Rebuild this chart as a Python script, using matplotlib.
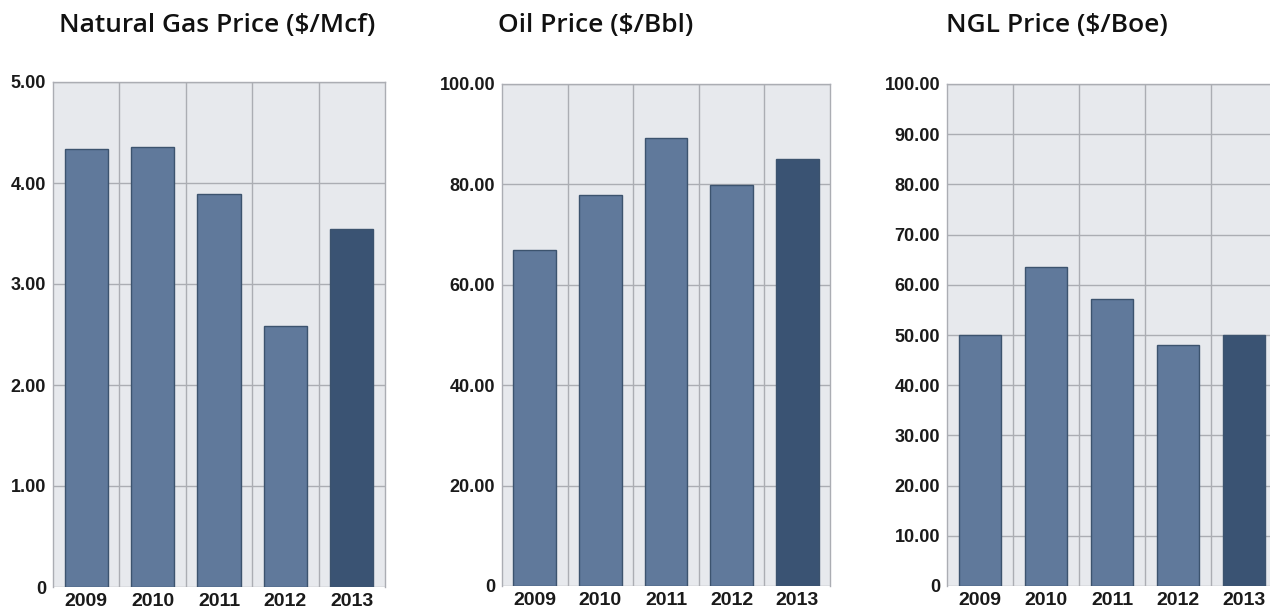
import matplotlib
matplotlib.use("Agg")
import matplotlib.pyplot as plt
from matplotlib.ticker import FixedLocator, FuncFormatter

years = ["2009", "2010", "2011", "2012", "2013"]
gas_price = [4.34, 4.36, 3.89, 2.58, 3.54]
oil_price = [67.0, 77.9, 89.3, 79.8, 85.1]
ngl_price = [50.0, 63.5, 57.2, 48.0, 50.0]

titles = ["Natural Gas Price ($/Mcf)", "Oil Price ($/Bbl)", "NGL Price ($/Boe)"]
gas_ticks = [0, 1, 2, 3, 4, 5]
oil_ticks = [0, 20, 40, 60, 80, 100]
ngl_ticks = [0, 10, 20, 30, 40, 50, 60, 70, 80, 90, 100]

W, H = 1270, 611
fig = plt.figure(figsize=(W / 100, H / 100), dpi=100)
fig.patch.set_facecolor("white")

BAR = "#60799b"
BAR_LAST = "#3a5373"
EDGE = "#3c536e"
BG = "#e7e9ed"
GRID = "#abadb3"


def px_axes(left, top, right, bottom):
    return fig.add_axes([left / W, 1 - bottom / H, (right - left) / W, (bottom - top) / H])


def fmt(v, _pos):
    return "0" if v == 0 else f"{v:.2f}"


panels = [
    (gas_price, gas_ticks, (53, 82, 385, 587), 217),
    (oil_price, oil_ticks, (502, 84, 830, 586), 596),
    (ngl_price, ngl_ticks, (947, 84, 1277, 586), 1057),
]

for (values, ticks, box, tx), title in zip(panels, titles):
    ax = px_axes(*box)
    ax.set_facecolor(BG)
    x = list(range(len(years)))
    colors = [BAR] * (len(years) - 1) + [BAR_LAST]
    ax.bar(x, values, width=0.65, color=colors, edgecolor=EDGE, linewidth=1.0, zorder=3)
    ax.set_xlim(-0.5, len(years) - 0.5)
    ax.set_ylim(ticks[0], ticks[-1])
    ax.yaxis.set_major_locator(FixedLocator(ticks))
    ax.yaxis.set_major_formatter(FuncFormatter(fmt))
    ax.set_xticks(x)
    ax.set_xticklabels(years)
    ax.xaxis.set_minor_locator(FixedLocator([i + 0.5 for i in range(len(years) - 1)]))
    ax.grid(True, which="major", axis="y", color=GRID, linewidth=1.0, zorder=1)
    ax.grid(True, which="minor", axis="x", color=GRID, linewidth=1.0, zorder=1)
    ax.tick_params(axis="both", which="both", length=0)
    ax.tick_params(axis="y", pad=5)
    ax.tick_params(axis="x", pad=4)
    for lab in ax.get_yticklabels():
        lab.set_fontfamily("Liberation Sans")
        lab.set_fontweight("bold")
        lab.set_fontsize(13)
        lab.set_color("#1a1a1a")
    for lab in ax.get_xticklabels():
        lab.set_fontfamily("Liberation Sans")
        lab.set_fontweight("bold")
        lab.set_fontsize(14)
        lab.set_color("#1a1a1a")
    for side in ["top", "left", "right"]:
        ax.spines[side].set_color(GRID)
        ax.spines[side].set_linewidth(1.0)
    ax.spines["bottom"].set_visible(False)
    fig.text(tx / W, 1 - 25 / H, title, ha="center", va="center",
             fontfamily="Open Sans", fontweight="semibold", fontsize=19, color="#111111")

fig.savefig("out.png", dpi=100)
